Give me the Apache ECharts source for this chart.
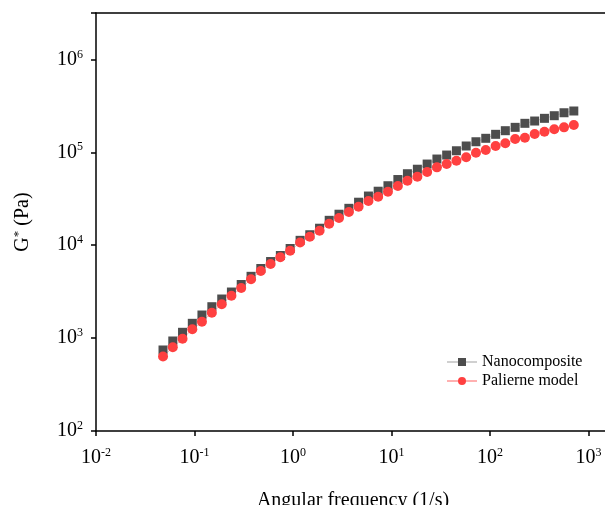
<!DOCTYPE html>
<html>
<head>
<meta charset="utf-8">
<script src="https://cdn.jsdelivr.net/npm/echarts@6/dist/echarts.min.js"></script>
<style>
  html, body { margin: 0; padding: 0; background: #fff; }
  #main { width: 605px; height: 505px; }
</style>
</head>
<body>
<div id="main"></div>
<script>
// angular frequency (1/s)
var freq = [0.0479, 0.0602, 0.0756, 0.095, 0.119, 0.150, 0.189, 0.237, 0.298, 0.375,
    0.471, 0.592, 0.744, 0.935, 1.18, 1.48, 1.86, 2.33, 2.93, 3.69,
    4.63, 5.83, 7.32, 9.20, 11.6, 14.5, 18.3, 23.0, 28.9, 36.3,
    45.6, 57.3, 72.0, 90.5, 114, 143, 180, 226, 284, 357,
    449, 564, 709];

// G* (Pa)
var nanocomposite = [745, 931, 1155, 1443, 1773, 2178, 2636, 3134, 3776, 4626,
    5613, 6675, 7747, 9215, 11290, 12970, 15240, 18540, 21570, 24960,
    29040, 33850, 38140, 43700, 50960, 58850, 65790, 74800, 84700, 93500,
    104000, 117000, 130000, 141600, 156300, 171000, 185800, 205300, 217300, 232300,
    247900, 266800, 278600];
var palierne = [634, 796, 985, 1243, 1502, 1876, 2311, 2860, 3462, 4295,
    5276, 6275, 7408, 8727, 10690, 12340, 14330, 17040, 19630, 22780,
    25970, 29910, 33280, 37660, 43370, 49460, 54630, 61380, 68930, 74800,
    81280, 88330, 99080, 105900, 117000, 125000, 139000, 143600, 157400, 166700,
    177000, 185800, 196800];

var seriesNames = ['Nanocomposite', 'Palierne model'];

var serif = '"Liberation Serif", "Times New Roman", serif';

function pairs(ys) {
    return freq.map(function (x, i) { return [x, ys[i]]; });
}

// 10^n labels, only on whole decades
function powLabel(v) {
    var e = Math.round(Math.log10(v));
    if (Math.abs(Math.log10(v) - e) > 1e-6) return '';
    return '{b|10}{s|' + e + '}';
}

var labelRich = {
    b: { fontFamily: serif, fontSize: 20, color: '#000', lineHeight: 22 },
    s: { fontFamily: serif, fontSize: 12, color: '#000', verticalAlign: 'top', lineHeight: 22 }
};

var chart = echarts.init(document.getElementById('main'), null, { renderer: 'canvas' });

// x range runs a bit past the right edge of the picture
var xMin = 0.01, xMax = 1652;

var option = {
    animation: false,
    backgroundColor: '#fff',
    grid: {
        left: 96,
        right: -5,
        top: 13,
        bottom: 74,
        containLabel: false,
        outerBoundsMode: 'none'
    },
    legend: {
        orient: 'vertical',
        left: 441,
        top: 349,
        itemWidth: 30,
        itemHeight: 10,
        itemGap: 3,
        textStyle: { fontFamily: serif, fontSize: 16, color: '#000' },
        data: seriesNames
    },
    xAxis: [{
        type: 'log',
        logBase: 10,
        min: xMin,
        max: xMax,
        name: 'Angular frequency (1/s)',
        nameLocation: 'middle',
        nameGap: 60,
        nameTextStyle: { fontFamily: serif, fontSize: 20, color: '#000' },
        axisLine: { lineStyle: { color: '#000', width: 1.5 } },
        axisTick: { length: 5, lineStyle: { color: '#000', width: 1.5 } },
        axisLabel: { margin: 16, formatter: powLabel, rich: labelRich },
        splitLine: { show: false },
        minorTick: { show: false }
    }, {
        type: 'log',
        position: 'top',
        min: xMin,
        max: xMax,
        axisLine: { lineStyle: { color: '#000', width: 1.5 } },
        axisTick: { show: false },
        axisLabel: { show: false },
        splitLine: { show: false }
    }],
    yAxis: {
        type: 'log',
        logBase: 10,
        min: 100,
        max: Math.pow(10, 6.5),
        name: '{a|G}{s|*}{a| (Pa)}',
        nameLocation: 'middle',
        nameGap: 62,
        nameTextStyle: {
            rich: {
                a: { fontFamily: serif, fontSize: 20, color: '#000', lineHeight: 22 },
                s: { fontFamily: serif, fontSize: 13, color: '#000', verticalAlign: 'top', lineHeight: 22 }
            }
        },
        axisLine: { lineStyle: { color: '#000', width: 1.5 } },
        axisTick: { length: 5, lineStyle: { color: '#000', width: 1.5 } },
        axisLabel: { margin: 13, formatter: powLabel, rich: labelRich },
        splitLine: { show: false },
        minorTick: { show: false }
    },
    series: [{
        name: seriesNames[0],
        type: 'line',
        symbol: 'rect',
        symbolSize: 9,
        itemStyle: { color: '#4d4d4d' },
        lineStyle: { color: '#d0d0d0', width: 1 },
        data: pairs(nanocomposite)
    }, {
        name: seriesNames[1],
        type: 'line',
        symbol: 'circle',
        symbolSize: 10,
        itemStyle: { color: '#ff4040' },
        lineStyle: { color: '#ffb0b0', width: 1 },
        data: pairs(palierne)
    }]
};

chart.setOption(option);
</script>
</body>
</html>
